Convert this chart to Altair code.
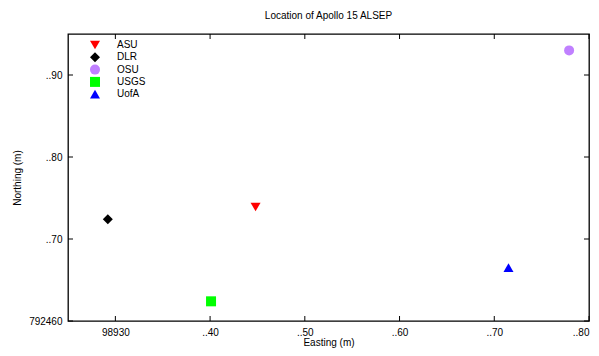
import altair as alt
import pandas as pd

# Data (offsets from the axis base; labels below give the displayed text)
groups = ["ASU", "DLR", "OSU", "USGS", "UofA"]
easting = [0.448, 0.292, 0.779, 0.401, 0.715]
northing = [0.739, 0.724, 0.930, 0.624, 0.665]
colors = ["#ff0000", "#000000", "#c080ff", "#00ff00", "#0000ff"]
shapes = ["triangle-down", "diamond", "circle", "square", "triangle-up"]

x_tick_values = [0.3, 0.4, 0.5, 0.6, 0.7, 0.8]
x_tick_labels = ["98930", "..40", "..50", "..60", "..70", "..80"]
y_tick_values = [0.6, 0.7, 0.8, 0.9]
y_tick_labels = ["792460", "..70", "..80", "..90"]

x_domain = [0.25, 0.80]
y_domain = [0.60, 0.95]

W, H = 521, 287
FONT = "Liberation Sans"


def label_expr(values, labels):
    expr = "''"
    for v, l in reversed(list(zip(values, labels))):
        expr = f"abs(datum.value - {v}) < 0.001 ? '{l}' : ({expr})"
    return expr


df = pd.DataFrame({"Easting": easting, "Northing": northing, "Group": groups})
xt = pd.DataFrame({"Easting": x_tick_values})
yt = pd.DataFrame({"Northing": y_tick_values})

x_scale = alt.Scale(domain=x_domain, nice=False, zero=False)
y_scale = alt.Scale(domain=y_domain, nice=False, zero=False)
x_axis = alt.Axis(values=x_tick_values, labelExpr=label_expr(x_tick_values, x_tick_labels),
                  title="Easting (m)", labelPadding=6, titleY=24, titleBaseline="alphabetic")
y_axis = alt.Axis(values=y_tick_values, labelExpr=label_expr(y_tick_values, y_tick_labels),
                  title="Northing (m)", labelPadding=6, titlePadding=6)

x_enc = alt.X("Easting:Q", scale=x_scale, axis=x_axis)
y_enc = alt.Y("Northing:Q", scale=y_scale, axis=y_axis)

points = alt.Chart(df).mark_point(filled=True, size=100, opacity=1, strokeWidth=0).encode(
    x=x_enc,
    y=y_enc,
    color=alt.Color("Group:N", scale=alt.Scale(domain=groups, range=colors),
                    legend=alt.Legend(orient="none", legendX=22, legendY=6, title=None,
                                      symbolSize=100, labelFontSize=10, labelFont=FONT,
                                      labelOffset=17, rowPadding=2.3, padding=0,
                                      symbolStrokeWidth=0, symbolOpacity=1)),
    shape=alt.Shape("Group:N", scale=alt.Scale(domain=groups, range=shapes)),
)

tick_bottom = alt.Chart(xt).mark_rule(color="black").encode(
    x=x_enc, y=alt.value(H), y2=alt.value(H - 5))
tick_top = alt.Chart(xt).mark_rule(color="black").encode(
    x=x_enc, y=alt.value(0), y2=alt.value(5))
tick_left = alt.Chart(yt).mark_rule(color="black").encode(
    y=y_enc, x=alt.value(0), x2=alt.value(5))
tick_right = alt.Chart(yt).mark_rule(color="black").encode(
    y=y_enc, x=alt.value(W), x2=alt.value(W - 5))

chart = alt.layer(tick_bottom, tick_top, tick_left, tick_right, points).properties(
    width=W, height=H,
    title=alt.TitleParams("Location of Apollo 15 ALSEP", fontSize=10, font=FONT,
                          fontWeight="normal", offset=13, color="black"),
    autosize=alt.AutoSizeParams(type="none"),
    padding={"left": 60, "top": 26, "right": 2, "bottom": 27},
).configure_view(
    stroke="black", strokeWidth=1.3
).configure_axis(
    ticks=False, domain=False, grid=False,
    labelFont=FONT, labelFontSize=10, labelColor="black",
    titleFont=FONT, titleFontSize=10, titleFontWeight="normal", titleColor="black",
)

chart.save("out.html", embed_options={"renderer": "svg", "actions": False})
